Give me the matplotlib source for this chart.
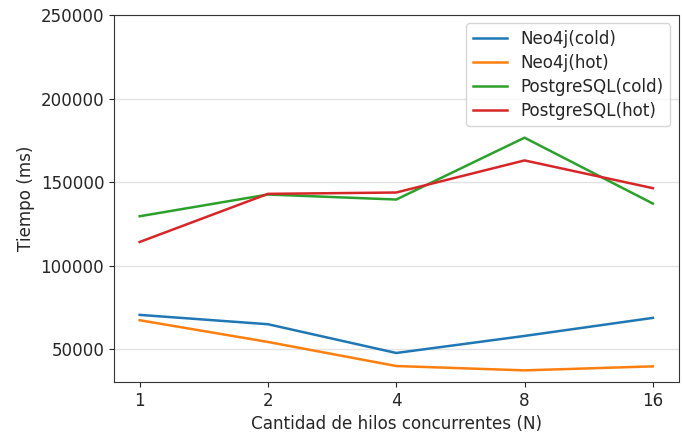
import matplotlib
matplotlib.use("Agg")
import matplotlib.pyplot as plt
from matplotlib.ticker import MultipleLocator

threads = ["1", "2", "4", "8", "16"]
neo4j_cold = [70600, 65000, 47800, 58000, 68800]
neo4j_hot = [67400, 54400, 40000, 37400, 39800]
pg_cold = [129600, 142600, 139600, 176600, 137200]
pg_hot = [114200, 143000, 143800, 163000, 146400]

plt.rcParams["font.size"] = 12.1
plt.rcParams["text.color"] = "#262626"
plt.rcParams["axes.labelcolor"] = "#262626"
plt.rcParams["xtick.color"] = "#262626"
plt.rcParams["ytick.color"] = "#262626"
plt.rcParams["axes.edgecolor"] = "#333333"

fig = plt.figure(figsize=(6.82, 4.36), dpi=100)
ax = fig.add_axes([114 / 682, 1 - 382 / 436, (678.5 - 114) / 682, (382 - 15) / 436])
lw = 1.8
ax.plot(threads, neo4j_cold, label="Neo4j(cold)", lw=lw)
ax.plot(threads, neo4j_hot, label="Neo4j(hot)", lw=lw)
ax.plot(threads, pg_cold, label="PostgreSQL(cold)", lw=lw)
ax.plot(threads, pg_hot, label="PostgreSQL(hot)", lw=lw)
ax.set_ylim(top=250000)
ax.yaxis.set_major_locator(MultipleLocator(50000))
ax.yaxis.grid(True, color="#e3e3e3", linewidth=1.0)
ax.set_axisbelow(True)
ax.set_xlabel("Cantidad de hilos concurrentes (N)")
ax.set_ylabel("Tiempo (ms)")
ax.legend(loc="upper right", labelspacing=0.35)
fig.savefig("out.png", dpi=100)
